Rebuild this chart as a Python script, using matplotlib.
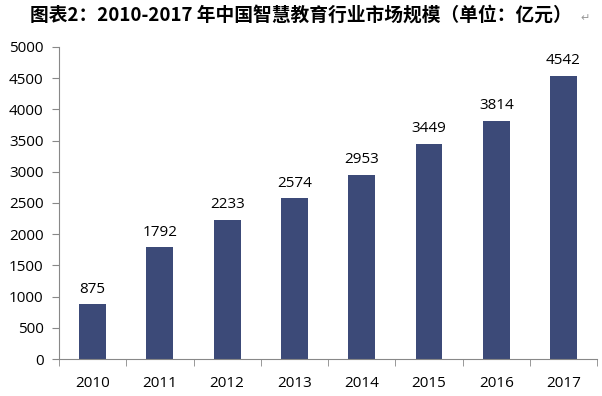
import matplotlib.pyplot as plt

years = ["2010", "2011", "2012", "2013", "2014", "2015", "2016", "2017"]
values = [875, 1792, 2233, 2574, 2953, 3449, 3814, 4542]
title = "图表2：2010-2017 年中国智慧教育行业市场规模（单位：亿元）"

plt.rcParams['font.family'] = ['Open Sans', 'DejaVu Sans']

fig = plt.figure(figsize=(6.02, 3.96), dpi=100)
ax = fig.add_axes([0.098, 0.0934, 0.894, 0.788])

x = range(len(years))
ax.bar(x, values, width=0.4, color="#3c4a78", zorder=2)
for i, v in enumerate(values):
    ax.text(i, v + 120, str(v), ha="center", va="bottom", fontsize=11, color="black")

ax.set_xlim(-0.5, len(years) - 0.5)
ax.set_ylim(0, 5000)
ax.set_yticks(range(0, 5001, 500))
ax.set_xticks(list(x))
ax.set_xticklabels(years, fontsize=11)
ax.set_xticks([i - 0.5 for i in range(len(years) + 1)], minor=True)
ax.tick_params(axis="x", which="major", length=0, pad=12)
ax.tick_params(axis="x", which="minor", length=5, color="#888888", direction="out")
ax.tick_params(axis="y", length=5, color="#888888", direction="out", labelsize=11, pad=6)
for s in ["top", "right"]:
    ax.spines[s].set_visible(False)
for s in ["left", "bottom"]:
    ax.spines[s].set_color("#888888")

fig.text(0.5, 0.962, title, ha="center", va="center", fontsize=13.5, fontweight="bold",
         family=["Noto Sans CJK SC", "DejaVu Sans"])
fig.text(0.965, 0.955, "↵", ha="left", va="center", fontsize=8, color="#999999",
         family="DejaVu Sans")

fig.savefig("out.png", dpi=100)
